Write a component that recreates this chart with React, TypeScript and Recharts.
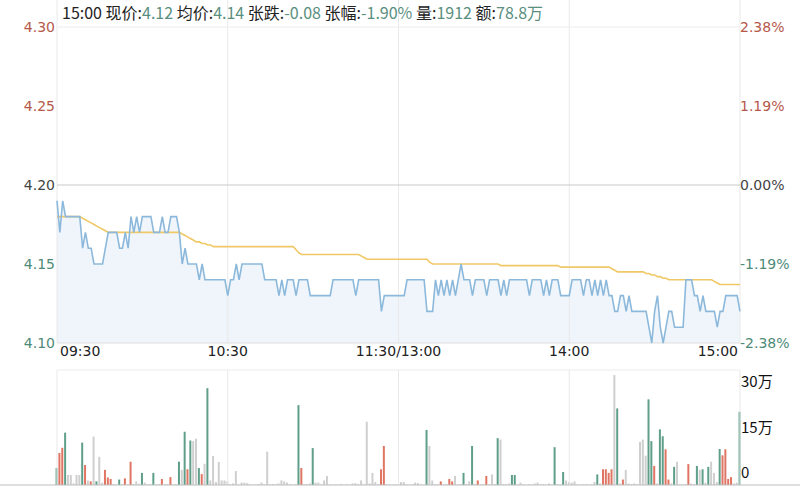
import React from 'react';
import { ComposedChart, Line, Area, Bar, XAxis, YAxis, ReferenceLine, Cell } from 'recharts';

const timeTicks = [0, 60, 120, 180, 240];
const timeLabels = ['09:30', '10:30', '11:30/13:00', '14:00', '15:00'];
const priceTicks = [4.3, 4.25, 4.2, 4.15, 4.1];
const pctTicks = [2.38, 1.19, 0, -1.19, -2.38];
const volTicks = [0, 15, 30];
const volLabels = ['0', '15万', '30万'];
const prevClose = 4.2;

const headerItems = [
  { label: '15:00 ', value: '' },
  { label: '现价:', value: '4.12' },
  { label: '均价:', value: '4.14' },
  { label: '张跌:', value: '-0.08' },
  { label: '张幅:', value: '-1.90%' },
  { label: '量:', value: '1912' },
  { label: '额:', value: '78.8万' },
];

const price = [
  4.19, 4.17, 4.19, 4.18, 4.18, 4.18, 4.18, 4.18, 4.18,
  4.16, 4.17, 4.16, 4.16, 4.15, 4.15, 4.15, 4.15, 4.16, 4.17,
  4.17, 4.17, 4.17, 4.16, 4.16, 4.17, 4.16, 4.18, 4.17, 4.18,
  4.17, 4.18, 4.18, 4.18, 4.18, 4.17, 4.17, 4.17, 4.18, 4.17,
  4.17, 4.18, 4.18, 4.18, 4.17, 4.15, 4.16, 4.15, 4.15, 4.15,
  4.15, 4.14, 4.15, 4.14, 4.14, 4.14, 4.14, 4.14, 4.14, 4.14,
  4.14, 4.13, 4.14, 4.14, 4.15, 4.14, 4.15, 4.15, 4.15, 4.15,
  4.15, 4.15, 4.15, 4.15, 4.14, 4.14, 4.14, 4.14, 4.14, 4.13,
  4.14, 4.13, 4.14, 4.14, 4.14, 4.13, 4.14, 4.14, 4.14, 4.14,
  4.13, 4.13, 4.13, 4.13, 4.13, 4.13, 4.13, 4.13, 4.14, 4.14,
  4.14, 4.14, 4.14, 4.14, 4.14, 4.14, 4.13, 4.14, 4.14, 4.14,
  4.14, 4.14, 4.14, 4.14, 4.14, 4.12, 4.13, 4.13, 4.13, 4.13,
  4.13, 4.13, 4.13, 4.13, 4.14, 4.14, 4.14, 4.14, 4.14, 4.14,
  4.14, 4.12, 4.12, 4.12, 4.14, 4.13, 4.14, 4.13, 4.14, 4.13,
  4.14, 4.13, 4.14, 4.15, 4.14, 4.14, 4.14, 4.13, 4.14, 4.14,
  4.14, 4.14, 4.13, 4.14, 4.14, 4.14, 4.14, 4.13, 4.14, 4.13,
  4.14, 4.14, 4.14, 4.14, 4.14, 4.14, 4.14, 4.13, 4.14, 4.14,
  4.14, 4.14, 4.13, 4.14, 4.13, 4.14, 4.14, 4.14, 4.13, 4.13,
  4.13, 4.13, 4.14, 4.14, 4.14, 4.14, 4.13, 4.14, 4.14, 4.13,
  4.14, 4.13, 4.14, 4.13, 4.14, 4.13, 4.13, 4.12, 4.12, 4.13,
  4.13, 4.12, 4.13, 4.12, 4.12, 4.12, 4.12, 4.12, 4.12, 4.11,
  4.10, 4.12, 4.13, 4.11, 4.10, 4.11, 4.12, 4.12, 4.11, 4.11,
  4.11, 4.11, 4.14, 4.14, 4.14, 4.13, 4.13, 4.12, 4.13, 4.12,
  4.12, 4.12, 4.12, 4.11, 4.12, 4.12, 4.13, 4.13, 4.13, 4.13,
  4.13, 4.12,
];

const avgPrice = [
  4.18, 4.18, 4.18, 4.18, 4.18, 4.18, 4.18, 4.18, 4.18,
  4.179, 4.178, 4.177, 4.176, 4.175, 4.174, 4.173, 4.172, 4.171, 4.17,
  4.17, 4.17, 4.17, 4.17, 4.17, 4.17, 4.17, 4.17, 4.17, 4.17,
  4.17, 4.17, 4.17, 4.17, 4.17, 4.17, 4.17, 4.17, 4.17, 4.17,
  4.17, 4.17, 4.17, 4.17, 4.17,
  4.169, 4.168, 4.167, 4.166, 4.165, 4.164, 4.164, 4.163, 4.163, 4.162, 4.162, 4.161,
  4.161, 4.161, 4.161, 4.161, 4.161, 4.161, 4.161, 4.161, 4.161, 4.161,
  4.161, 4.161, 4.161, 4.161, 4.161, 4.161, 4.161, 4.161, 4.161, 4.161,
  4.161, 4.161, 4.161, 4.161, 4.161, 4.161, 4.161, 4.161,
  4.159, 4.157, 4.156,
  4.156, 4.156, 4.156, 4.156, 4.156, 4.156, 4.156, 4.156, 4.156, 4.156,
  4.156, 4.156, 4.156, 4.156, 4.156, 4.156, 4.156, 4.156, 4.156, 4.156,
  4.155, 4.154, 4.153,
  4.153, 4.153, 4.153, 4.153, 4.153, 4.153, 4.153, 4.153, 4.153, 4.153,
  4.153, 4.153, 4.153, 4.153, 4.153, 4.153, 4.153, 4.153, 4.153, 4.153, 4.153,
  4.151, 4.15,
  4.15, 4.15, 4.15, 4.15, 4.15, 4.15, 4.15, 4.15, 4.15, 4.15,
  4.15, 4.15, 4.15, 4.15, 4.15, 4.15, 4.15, 4.15, 4.15, 4.15, 4.15, 4.15, 4.15,
  4.149, 4.149, 4.149, 4.149, 4.149, 4.149, 4.149, 4.149, 4.149, 4.149,
  4.149, 4.149, 4.149, 4.149, 4.149, 4.149, 4.149, 4.149, 4.149, 4.149, 4.149,
  4.148, 4.148, 4.148, 4.148, 4.148, 4.148, 4.148, 4.148, 4.148,
  4.148, 4.148, 4.148, 4.148, 4.148, 4.148, 4.148, 4.148, 4.148,
  4.147, 4.146, 4.145,
  4.145, 4.145, 4.145, 4.145, 4.145, 4.145, 4.145, 4.145,
  4.145, 4.144, 4.144, 4.143, 4.143, 4.142, 4.142, 4.141, 4.141, 4.14, 4.14, 4.14, 4.14, 4.14,
  4.14, 4.14, 4.14, 4.14, 4.14, 4.14, 4.14, 4.14, 4.14, 4.14, 4.14,
  4.139, 4.138, 4.137,
  4.137, 4.137, 4.137, 4.137, 4.137, 4.137, 4.137,
];

// volume in 万股
const volume = [
  5.6, 10.6, 12.3, 17.3, 3.3, 3.3, 0.5, 3.3, 3.3, 14.0,
  6.6, 1.5, 1.2, 16.0, 1.2, 9.3, 0.8, 5.0, 2.5, 2.0,
  0.3, 0.2, 1.8, 0.3, 2.2, 0.2, 7.7, 0.3, 1.2, 0.4,
  4.0, 0.8, 0.2, 0.3, 4.0, 0.2, 0.3, 2.0, 0.2, 0.3,
  2.6, 0.2, 0.3, 7.7, 5.0, 17.6, 5.2, 14.7, 14.5, 15.3,
  5.6, 3.6, 7.0, 32.0, 1.5, 9.6, 1.0, 7.6, 1.5, 1.5,
  1.2, 0.3, 0.5, 4.6, 0.2, 0.8, 0.8, 0.6, 0.2, 0.1,
  0.2, 0.3, 0.8, 0.2, 11.0, 0.2, 0.3, 0.2, 0.5, 1.5,
  1.2, 0.8, 0.2, 0.1, 0.3, 26.4, 5.6, 0.3, 0.2, 0.5,
  12.2, 0.8, 0.8, 0.2, 1.5, 3.0, 0.2, 0.1, 0.2, 0.1,
  0.3, 0.1, 0.2, 0.1, 0.5, 0.6, 0.3, 1.5, 0.2, 20.9,
  0.5, 4.0, 1.0, 0.3, 5.2, 12.9, 0.3, 0.2, 0.1, 0.2,
  0.1, 1.0, 1.0, 0.2, 0.1, 0.2, 0.8, 0.6, 0.2, 0.1,
  18.2, 12.9, 1.5, 0.3, 0.2, 1.2, 0.2, 0.3, 2.0, 1.2,
  3.0, 0.2, 0.3, 4.0, 0.3, 1.2, 12.9, 0.3, 1.5, 0.2,
  0.3, 3.0, 0.2, 3.5, 0.3, 15.5, 15.0, 0.3, 0.2, 0.5,
  3.3, 3.3, 0.2, 0.8, 0.2, 0.1, 0.2, 0.1, 0.5, 0.8,
  0.2, 0.3, 0.1, 0.5, 0.2, 12.5, 0.3, 0.2, 4.3, 1.5,
  1.0, 0.8, 1.2, 0.2, 0.1, 0.2, 0.3, 0.1, 0.2, 1.0,
  3.5, 0.5, 5.2, 5.2, 4.0, 5.2, 36.3, 25.3, 0.5, 1.8,
  5.0, 0.5, 0.3, 0.5, 0.3, 14.3, 15.0, 9.7, 28.3, 14.5,
  6.3, 0.5, 18.4, 16.1, 11.8, 1.8, 0.5, 6.0, 7.7, 0.3,
  0.2, 0.3, 6.9, 0.5, 0.3, 6.3, 5.0, 5.2, 0.8, 6.0,
  7.7, 4.0, 1.0, 11.9, 9.8, 11.8, 2.0, 2.6, 0.5, 0.8,
  24.2,
];

const redBars = [1, 2, 10, 12, 17, 18, 19, 24, 26, 37, 40, 46, 51, 86, 114, 115, 135, 138, 139, 148, 151, 192, 193, 194, 195, 199, 210, 214, 215, 222, 234, 235, 236, 237];
const greenBars = [0, 3, 9, 14, 22, 30, 34, 43, 45, 47, 50, 53, 85, 90, 130, 143, 146, 155, 160, 161, 175, 178, 190, 197, 208, 209, 212, 213, 217, 225, 227, 229, 233, 240];

const RED = '#b5584a';
const GREEN = '#4e8a78';
const DARK = '#444';
const GRID = '#e9e9e9';
const AXIS_FONT = 'DejaVu Sans, Verdana, sans-serif';

const priceRows = price.map((p, i) => ({
  t: i,
  price: p,
  avg: avgPrice[i],
  pct: ((p - prevClose) / prevClose) * 100,
}));
const volRows = volume.map((v, i) => ({ t: i, vol: v }));

const TimeTick = (props: any) => {
  const { x, y, payload, index } = props;
  const last = timeTicks.length - 1;
  const anchor = index === 0 ? 'start' : index === last ? 'end' : 'middle';
  const dx = index === 0 ? 3 : index === last ? -2 : 0;
  return (
    <text x={x + dx} y={y} dy={11} textAnchor={anchor} fill="#222" fontSize={14} fontFamily={AXIS_FONT}>
      {timeLabels[timeTicks.indexOf(payload.value)]}
    </text>
  );
};

const PriceTick = (props: any) => {
  const { x, y, payload } = props;
  const v = payload.value;
  const color = v > prevClose + 0.001 ? RED : v < prevClose - 0.001 ? GREEN : DARK;
  return (
    <text x={x} y={y} dy={5} textAnchor="end" fill={color} fontSize={14} fontFamily={AXIS_FONT}>
      {v.toFixed(2)}
    </text>
  );
};

const PctTick = (props: any) => {
  const { x, y, payload } = props;
  const v = payload.value;
  const color = v > 0.001 ? RED : v < -0.001 ? GREEN : DARK;
  return (
    <text x={x} y={y} dy={5} textAnchor="start" fill={color} fontSize={14} fontFamily={AXIS_FONT}>
      {v.toFixed(2) + '%'}
    </text>
  );
};

const VolTick = (props: any) => {
  const { x, y, payload } = props;
  return (
    <text x={x} y={y} dy={-7} textAnchor="start" fill="#111" fontSize={15} fontFamily="Noto Sans CJK SC, sans-serif">
      {volLabels[volTicks.indexOf(payload.value)]}
    </text>
  );
};

const barColor = (i: number) => (redBars.includes(i) ? '#e07563' : greenBars.includes(i) ? '#5f9f8a' : '#cfcfcf');

export default function App() {
  return (
    <div style={{ position: 'absolute', left: 0, top: 0, width: 800, height: 500, background: '#fff', overflow: 'hidden' }}>
      <div
        style={{
          position: 'absolute',
          left: 62,
          top: 1,
          fontFamily: 'Noto Sans CJK SC, sans-serif',
          fontSize: 16,
          color: '#222',
          whiteSpace: 'pre',
          lineHeight: '22px',
          zIndex: 2,
        }}
      >
        {headerItems.map((h, i) => (
          <span key={i}>
            {h.label}
            <span style={{ color: '#5a8f80' }}>{h.value}</span>
            {h.value && i < headerItems.length - 1 ? ' ' : ''}
          </span>
        ))}
      </div>
      <div style={{ position: 'absolute', left: 0, top: 0 }}>
        <ComposedChart width={800} height={370} data={priceRows} margin={{ top: 27, right: 0, bottom: 0, left: 0 }}>
          <XAxis
            dataKey="t"
            type="number"
            domain={[0, 240]}
            ticks={timeTicks}
            interval={0}
            tick={<TimeTick />}
            tickLine={false}
            axisLine={false}
            height={27}
            tickSize={0}
          />
          <YAxis
            yAxisId="p"
            domain={[4.1, 4.3]}
            ticks={priceTicks}
            interval={0}
            width={57}
            tick={<PriceTick />}
            tickLine={false}
            axisLine={false}
            tickSize={0}
            tickMargin={2}
          />
          <YAxis
            yAxisId="pct"
            orientation="right"
            domain={[-2.38, 2.38]}
            allowDataOverflow
            ticks={pctTicks}
            interval={0}
            width={60}
            tick={<PctTick />}
            tickLine={false}
            axisLine={false}
            tickSize={0}
            tickMargin={0}
          />
          <Area
            yAxisId="p"
            type="linear"
            dataKey="price"
            stroke="none"
            fill="#eff5fb"
            fillOpacity={1}
            baseValue={4.1}
            isAnimationActive={false}
          />
          {[0, 60, 120, 180, 240].map((t) => (
            <ReferenceLine
              key={'v' + t}
              yAxisId="p"
              ifOverflow="visible"
              segment={[{ x: t, y: 4.1 }, { x: t, y: 4.318 }]}
              stroke={GRID}
              strokeWidth={1}
            />
          ))}
          <ReferenceLine yAxisId="p" y={4.3} stroke="#ececec" />
          <ReferenceLine yAxisId="p" y={4.2} stroke="#c9c9c9" />
          <ReferenceLine yAxisId="p" y={4.1} stroke="#dedede" />
          <Line yAxisId="pct" type="linear" dataKey="pct" stroke="none" strokeOpacity={0} dot={false} activeDot={false} isAnimationActive={false} />
          <Line yAxisId="p" type="linear" dataKey="avg" stroke="#f0c866" strokeWidth={1.6} dot={false} isAnimationActive={false} />
          <Line yAxisId="p" type="linear" dataKey="price" stroke="#8cb9db" strokeWidth={1.6} dot={false} isAnimationActive={false} />
        </ComposedChart>
      </div>
      <div style={{ position: 'absolute', left: 0, top: 360 }}>
        <ComposedChart width={800} height={140} data={volRows} margin={{ top: 10, right: 0, bottom: 15, left: 57 }}>
          <XAxis dataKey="t" type="number" domain={[0, 240]} hide />
          <YAxis
            orientation="right"
            domain={[0, 38]}
            ticks={volTicks}
            interval={0}
            width={60}
            tick={<VolTick />}
            tickLine={false}
            axisLine={false}
            tickSize={0}
            tickMargin={1}
          />
          {[0, 60, 120, 180, 240].map((t) => (
            <ReferenceLine key={'vv' + t} x={t} stroke={GRID} />
          ))}
          <ReferenceLine y={38} stroke="#ececec" />
          <ReferenceLine ifOverflow="visible" segment={[{ x: -20, y: 0 }, { x: 262, y: 0 }]} stroke="#bdbdbd" />
          <Bar dataKey="vol" barSize={2} isAnimationActive={false}>
            {volRows.map((r) => (
              <Cell key={r.t} fill={barColor(r.t)} />
            ))}
          </Bar>
        </ComposedChart>
      </div>
    </div>
  );
}
